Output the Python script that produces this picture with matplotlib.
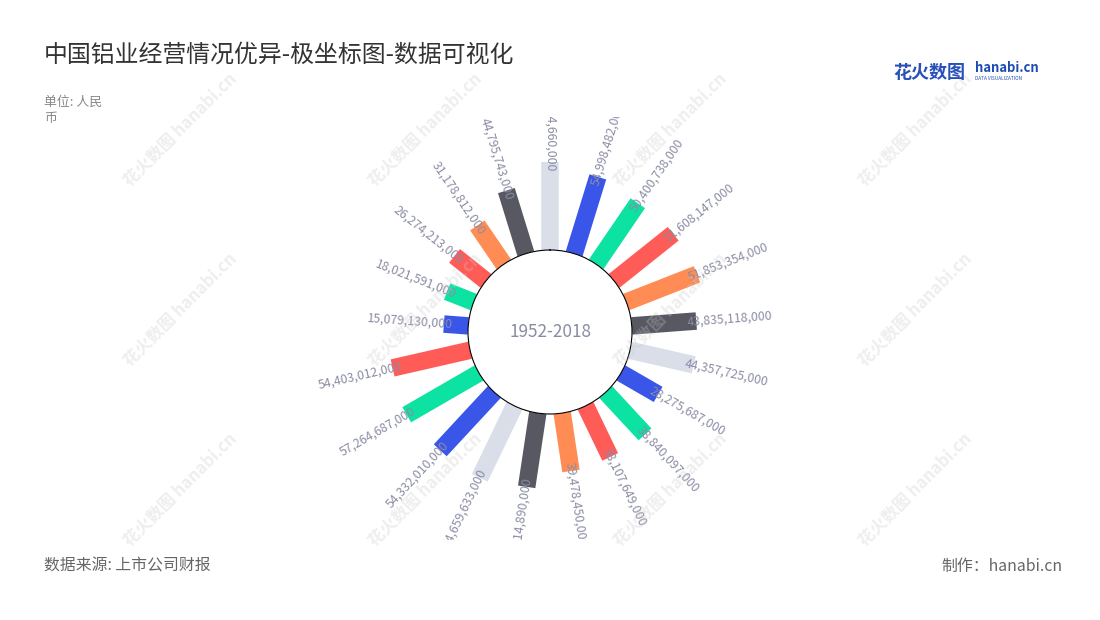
import matplotlib
matplotlib.use("Agg")
import matplotlib.pyplot as plt
import numpy as np
from matplotlib.transforms import Bbox, TransformedBbox

plt.rcParams["font.family"] = ["Noto Sans CJK SC", "DejaVu Sans"]

# ── data ────────────────────────────────────────────────────────────────────
# 21 bars, clockwise from 12 o'clock; values in RMB
values = [
    60434660000, 54998482000, 50400738000, 51608147000, 51853354000,
    43835118000, 44357725000, 28275687000, 38840097000, 38107649000,
    39478450000, 50914890000, 54659633000, 54332010000, 57264687000,
    54403012000, 15079130000, 18021591000, 26274213000, 31178812000,
    44795743000,
]
LIGHT, BLUE, GREEN, RED, ORANGE, DARK = (
    "#d9dee9", "#3a56e8", "#0ce3a2", "#ff5b57", "#ff8c54", "#575862")
bar_colors = [
    LIGHT, BLUE, GREEN, RED, ORANGE, DARK, LIGHT, BLUE, GREEN, RED, ORANGE,
    DARK, LIGHT, BLUE, GREEN, RED, BLUE, GREEN, RED, ORANGE, DARK,
]
center_label = "1952-2018"

TITLE = "中国铝业经营情况优异-极坐标图-数据可视化"
UNIT = "单位: 人民\n币"
SOURCE = "数据来源: 上市公司财报"
MAKER = "制作：hanabi.cn"

LABEL_C = "#8a8ca3"

# ── figure ──────────────────────────────────────────────────────────────────
W, H = 1100, 620
fig = plt.figure(figsize=(W / 100, H / 100), dpi=100)
fig.patch.set_facecolor("white")

# polar axes: 400 px square centred on (550, 332)
R_PX = 200
cx, cy = 550, 332
ax = fig.add_axes([(cx - R_PX) / W, 1 - (cy + R_PX) / H, 2 * R_PX / W, 2 * R_PX / H],
                  projection="polar")
ax.set_theta_zero_location("N")
ax.set_theta_direction(-1)

# radial scale: v (billions) -> 85.3 + 1.40 * v px ; inner circle at 82 px
px_per_b = 1.40
r0 = -85.3 / px_per_b
rmin = (82 - 85.3) / px_per_b
rmax = (R_PX - 85.3) / px_per_b
ax.set_rorigin(r0)
ax.set_ylim(rmin, rmax)
ax.set_xticks([])
ax.set_yticks([])
ax.grid(False)
ax.set_facecolor("none")
ax.spines["polar"].set_visible(False)
ax.spines["inner"].set_color("black")
ax.spines["inner"].set_linewidth(0.8)

n = len(values)
theta = np.arange(n) * 2 * np.pi / n
vb = np.array(values) / 1e9

ax.vlines(theta, rmin, vb, colors=bar_colors, linewidth=12.6, capstyle="butt", zorder=2)

# labels clipped to a band (like the original)
clip = TransformedBbox(Bbox([[0, 80 / H], [1, 503 / H]]), fig.transFigure)
for th, v, raw in zip(theta, vb, values):
    phi = (90 - np.degrees(th)) % 360
    if phi > 180:
        phi -= 360
    if -90 < phi < 90:
        rot, ha = phi, "left"
    else:
        rot, ha = phi + 180, "right"
    t = ax.text(th, v - 9 / px_per_b, f"{raw:,}", rotation=rot, rotation_mode="anchor",
                ha=ha, va="center", fontsize=8.8, color=LABEL_C, zorder=3)
    t.set_clip_path(None)
    t.set_clip_box(clip)
    t.set_clip_on(True)

ax.text(0, r0, center_label, ha="center", va="center", fontsize=12.4, color=LABEL_C)

# ── watermarks ─────────────────────────────────────────────────────────────
for wy in (130, 310, 490):
    for wx in (180, 425, 670, 915):
        fig.text(wx / W, 1 - wy / H, "花火数图 hanabi.cn", rotation=45,
                 ha="center", va="center", fontsize=12, fontweight="bold",
                 color="#c8c8c8", alpha=0.3, zorder=0)

# ── titles / footer ────────────────────────────────────────────────────────
fig.text(44 / W, 1 - 55 / H, TITLE, fontsize=17.2, color="#333333", va="center")
fig.text(44 / W, 1 - 96 / H, UNIT, fontsize=9.3, color="#888888", va="top",
         linespacing=1.3)
fig.text(44 / W, 1 - 566 / H, SOURCE, fontsize=11.4, color="#666666", va="center")
fig.text(1062 / W, 1 - 566 / H, MAKER, fontsize=11.4, color="#666666", va="center",
         ha="right")

# logo
fig.text(893 / W, 1 - 72 / H, "花火数图", fontsize=13, fontweight="bold",
         color="#2850b8", va="center")
fig.text(975 / W, 1 - 68 / H, "hanabi.cn", fontsize=9.4, fontweight="bold",
         color="#1d4bb5", va="center")
fig.text(975 / W, 1 - 79 / H, "DATA VISUALIZATION", fontsize=3.4,
         color="#1d4bb5", va="center")

fig.savefig("out.png", dpi=100, facecolor="white")
